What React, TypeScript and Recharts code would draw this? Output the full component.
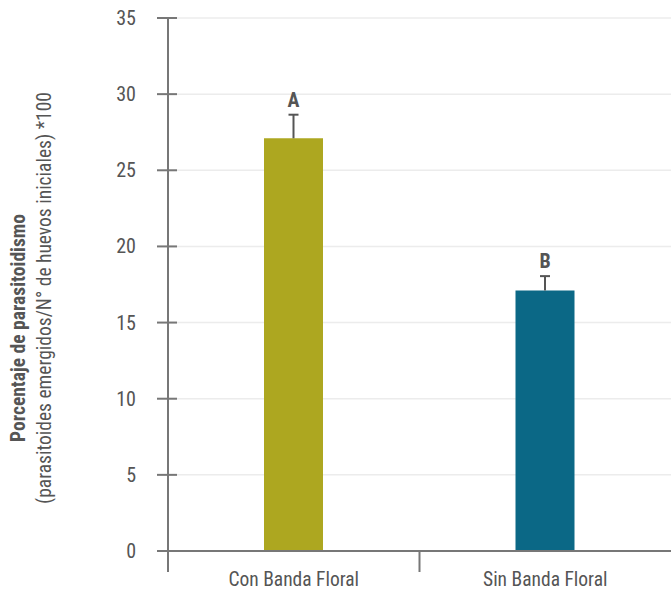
import React from 'react';
import { BarChart, Bar, XAxis, YAxis, CartesianGrid, Cell, LabelList } from 'recharts';

const categories = ['Con Banda Floral', 'Sin Banda Floral'];
const values = [27.1, 17.1];
const errors = [1.55, 0.95];
const letters = ['A', 'B'];
const colors = ['#ada720', '#0b6886'];
const yTicks = [0, 5, 10, 15, 20, 25, 30, 35];

const data = categories.map((name, i) => ({ name, value: values[i], err: errors[i], letter: letters[i] }));

const FONT = "'Liberation Sans Narrow', 'Roboto Condensed', Roboto, sans-serif";
const AXIS = '#777777';
const TEXT = '#555555';

const YTick = (props: any) => {
  const { x, y, payload } = props;
  return (
    <g>
      <line x1={x - 11} x2={x + 9} y1={y} y2={y} stroke={AXIS} strokeWidth={2} />
      <text x={x - 32} y={y} dy={7} textAnchor="end" fontSize={20} fill={TEXT} fontFamily={FONT}>
        {payload.value}
      </text>
    </g>
  );
};

const XTick = (props: any) => {
  const { x, y, payload } = props;
  const half = payload.offset || 125.75;
  const left = x - half;
  return (
    <g>
      <line x1={left} x2={left} y1={y} y2={y + 21} stroke={AXIS} strokeWidth={2} />
      <text x={x} y={y + 35} textAnchor="middle" fontSize={19.5} fill={TEXT} fontFamily={FONT}>
        {payload.value}
      </text>
    </g>
  );
};

const ErrLabel = (props: any) => {
  const { x, y, width, height, value, index } = props;
  const d = data[index];
  const perUnit = height / value;
  const top = y - d.err * perUnit;
  const cx = x + width / 2;
  return (
    <g>
      <line x1={cx} x2={cx} y1={y} y2={top} stroke={TEXT} strokeWidth={2} />
      <line x1={cx - 5} x2={cx + 5} y1={top} y2={top} stroke={TEXT} strokeWidth={2} />
      <text x={cx} y={top - 8} textAnchor="middle" fontSize={20} fontWeight="bold" fill={TEXT} fontFamily={FONT}>
        {d.letter}
      </text>
    </g>
  );
};

const YLabel = () => (
  <g>
    <text transform="translate(25, 328) rotate(-90)" textAnchor="middle" fontSize={19.5} fontWeight="bold" fill={TEXT} fontFamily={FONT}>
      Porcentaje de parasitoidismo
    </text>
    <text transform="translate(51, 298) rotate(-90)" textAnchor="middle" fontSize={19.5} fill={TEXT} fontFamily={FONT}>
      (parasitoides emergidos/N° de huevos iniciales) *100
    </text>
  </g>
);

export default function App() {
  return (
    <div style={{ position: 'absolute', left: 0, top: 0, background: '#fff' }}>
      <BarChart width={671} height={591} data={data} margin={{ top: 18, right: 0, bottom: 0, left: 0 }}>
        <CartesianGrid vertical={false} stroke="#ececec" strokeWidth={1.5} />
        <XAxis
          dataKey="name"
          axisLine={{ stroke: AXIS, strokeWidth: 2 }}
          tickLine={false}
          tickSize={0}
          tickMargin={0}
          height={40}
          tick={<XTick />}
          interval={0}
        />
        <YAxis
          domain={[0, 35]}
          ticks={yTicks}
          width={168}
          axisLine={{ stroke: AXIS, strokeWidth: 2 }}
          tickLine={false}
          tickSize={0}
          tickMargin={0}
          tick={<YTick />}
          label={{ content: () => <YLabel /> }}
        />
        <Bar dataKey="value" barSize={59} isAnimationActive={false}>
          {data.map((d, i) => (
            <Cell key={d.name} fill={colors[i]} />
          ))}
          <LabelList dataKey="value" content={<ErrLabel />} />
        </Bar>
      </BarChart>
    </div>
  );
}
